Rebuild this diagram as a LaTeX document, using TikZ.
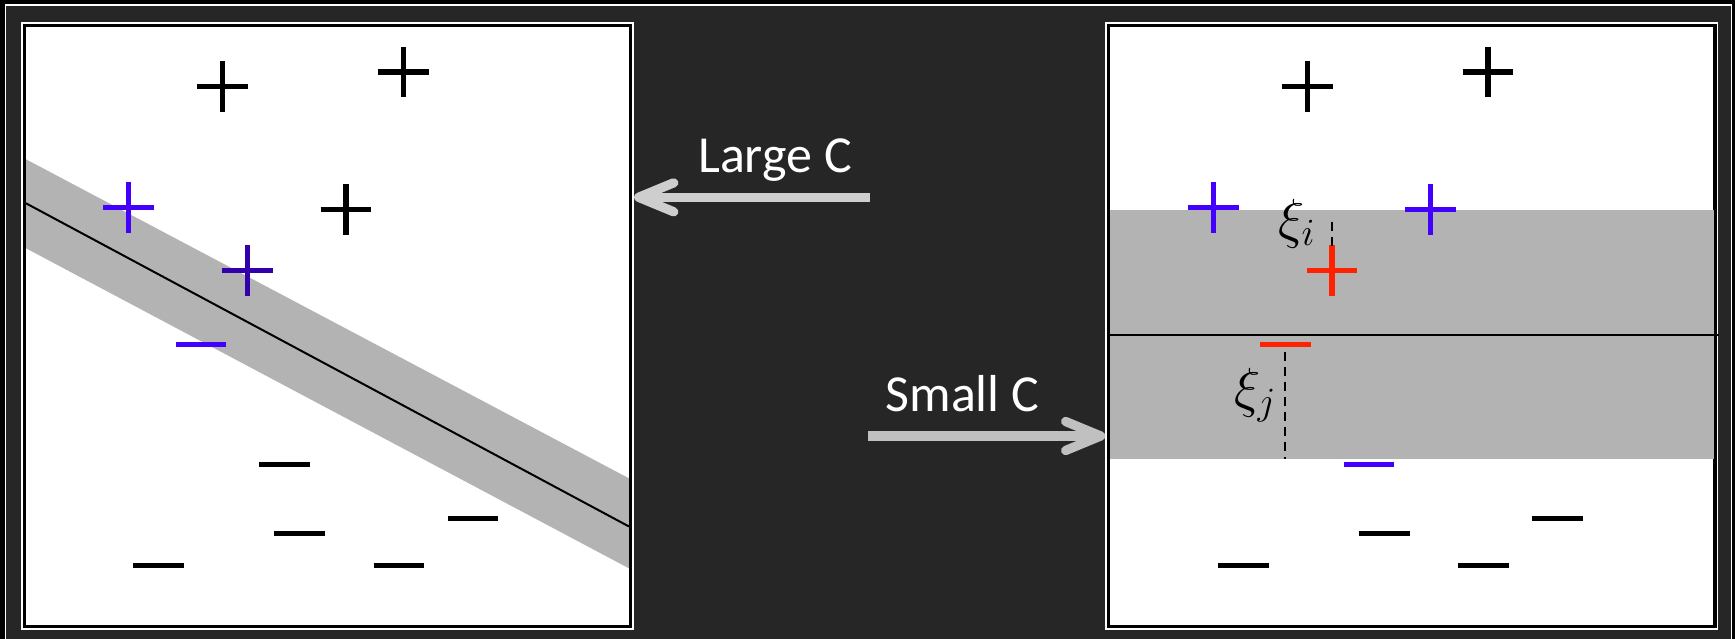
\RequirePackage{fix-cm}
\documentclass[tikz,border=0pt]{standalone}
\usepackage{fontspec}
\newfontfamily\calib{Carlito}
\usetikzlibrary{arrows.meta,calc}
\definecolor{bgdark}{RGB}{38,38,38}
\definecolor{bandgray}{RGB}{179,179,179}
\definecolor{ptblue}{RGB}{68,0,255}
\definecolor{ptdarkblue}{RGB}{51,0,170}
\definecolor{ptred}{RGB}{255,34,0}
\definecolor{arrowlight}{RGB}{206,206,206}
\definecolor{arrowmid}{RGB}{192,192,192}

\begin{document}
\begin{tikzpicture}[x=1pt, y=-1pt,
	panel/.style={draw=black, fill=white, line width=3.3pt, minimum width=606.5pt, minimum height=601pt, inner sep=0pt, outer sep=3.3pt, preaction={draw=white, line width=6.8pt}},
	sign/.style={line width=5.5pt},
	bigarrow/.style={line width=9.3pt, -{Straight Barb[length=35pt,width=29pt,round]}},
	slackline/.style={line width=2pt, dash pattern=on 9pt off 6pt},
	sidelabel/.style={text=white, font=\calib\fontsize{52}{60}\selectfont, inner sep=0pt, anchor=base},
	slack/.style={font=\fontsize{55}{60}\selectfont, inner sep=0pt, anchor=base west},
	plussign/.pic={\draw[sign] (-25.3,0) -- (25.3,0) (0,-25.3) -- (0,25.3);},
	minussign/.pic={\draw[sign] (-25.3,0) -- (25.3,0);}]
						\useasboundingbox (0,0) rectangle (1735,639);
						\clip (0,0) rectangle (1735,639);
						\fill[black] (0,0) rectangle (1735,639);
						\draw[white, line width=1.4pt, fill=bgdark] (5.2,5) rectangle (1731.3,700);
						% the two panels
						\node[panel] (left) at (327.5,325.8) {};
						\node[panel] (right) at (1411.8,326.3) {};
						% margins
						\fill[bandgray] (26,159.3) -- (628.9,478.3) -- (628.9,568.3) -- (26,248.3) -- cycle;
						\draw[line width=2pt] (26,203.3) -- (629,526.5);
						\fill[bandgray] (1110,210) rectangle (1713.6,459);
						\draw[line width=2.3pt] (1110,334.7) -- (1719,334.7);
						% large C
						\pic at (222.7,86.7) {plussign};
						\pic at (403.3,72) {plussign};
						\pic at (346,209.3) {plussign};
						\pic[ptblue] at (128.7,207.3) {plussign};
						\pic[ptdarkblue] at (247.3,270.7) {plussign};
						\pic[ptblue] at (200.8,344.7) {minussign};
						\pic at (284.3,464.7) {minussign};
						\pic at (299.7,533.7) {minussign};
						\pic at (473,518.7) {minussign};
						\pic at (158.7,565.7) {minussign};
						\pic at (399,565.7) {minussign};
						% small C
						\coordinate (redplus) at (1332,270.7);
						\coordinate (redminus) at (1285.4,344.7);
						\pic at (1307.3,86.7) {plussign};
						\pic at (1487.9,72) {plussign};
						\pic[ptblue] at (1430.6,209.3) {plussign};
						\pic[ptblue] at (1213.3,207.3) {plussign};
						\pic[ptred] at (redplus) {plussign};
						\pic[ptred] at (redminus) {minussign};
						\pic[ptblue] at (1369,464.7) {minussign};
						\pic at (1384.3,533.7) {minussign};
						\pic at (1557.6,518.7) {minussign};
						\pic at (1243.3,565.7) {minussign};
						\pic at (1483.6,565.7) {minussign};
						\draw[slackline] ($(redplus)+(0,-49)$) -- ($(redplus)+(0,-25)$);
						\draw[slackline] ($(redminus)+(0,7)$) -- ($(redminus)+(0,114.3)$);
						\node[slack] (xii) at (1278,237.5) {$\xi_i$};
						\node[slack] (xij) at (1234,406.5) {$\xi_j$};
						% arrows between the panels
						\coordinate (largetail) at (870,197.3);
						\coordinate (smalltail) at (868.3,436);
						\draw[bigarrow, arrowlight] (largetail) -- (largetail -| left.east);
						\draw[bigarrow, arrowmid] (smalltail) -- (smalltail -| right.west);
						\node[sidelabel] (large) at (775,172.7) {Large C};
						\node[sidelabel] (small) at (962.5,411.7) {Small C};
					\end{tikzpicture}
\end{document}
